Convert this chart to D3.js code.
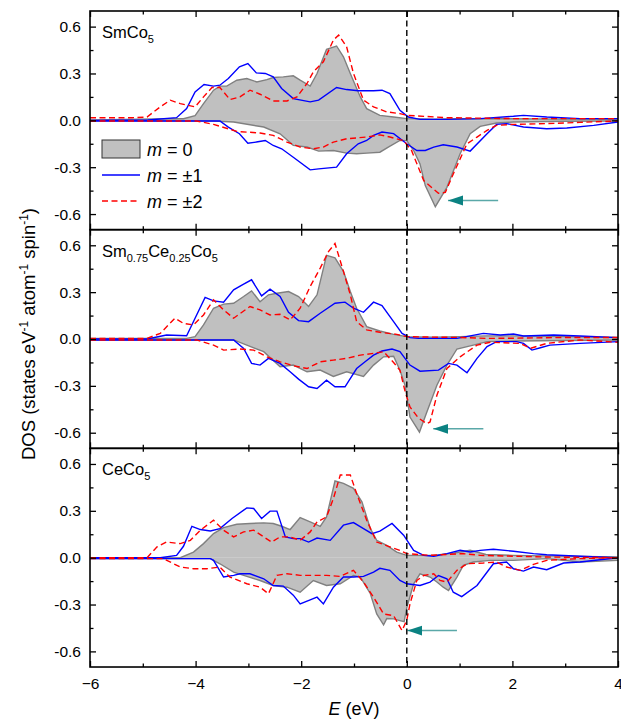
<!DOCTYPE html>
<html>
<head>
<meta charset="utf-8">
<script src="https://d3js.org/d3.v7.min.js"></script>
<style>
  body { margin: 0; background: #fff; }
  text { font-family: "Liberation Sans", Arial, sans-serif; }
</style>
</head>
<body>
<svg id="chart" width="621" height="720"></svg>
<script>
// ---- data (E in eV, DOS in states/eV/atom/spin) ----
const energyTicks = [-6, -4, -2, 0, 2, 4];
const energyMinor = [-5, -3, -1, 1, 3];
const dosTicks = [-0.6, -0.3, 0, 0.3, 0.6];
const dosMinor = [-0.45, -0.15, 0.15, 0.45];

// SmCo5
const smco5_m0_up = [[-6,0.003],[-4.5,0.01],[-4.23,0.01],[-4.01,0.03],[-3.85,0.107],[-3.66,0.193],[-3.54,0.219],[-3.41,0.219],[-3.22,0.257],[-3.03,0.268],[-2.84,0.246],[-2.65,0.261],[-2.53,0.274],[-2.34,0.278],[-2.15,0.285],[-2.02,0.257],[-1.83,0.219],[-1.70,0.30],[-1.52,0.454],[-1.33,0.476],[-1.20,0.407],[-1.07,0.30],[-0.88,0.15],[-0.76,0.075],[-0.51,0.032],[-0.25,0.021],[0,0.011],[0.5,0.008],[1,0.01],[2,0.01],[3,0.008],[4,0.006]];
const smco5_m0_dn = [[-6,-0.003],[-3.66,-0.004],[-3.28,-0.011],[-2.71,-0.043],[-2.40,-0.086],[-2.15,-0.16],[-1.89,-0.171],[-1.67,-0.197],[-1.39,-0.193],[-1.14,-0.21],[-0.95,-0.214],[-0.76,-0.21],[-0.51,-0.204],[-0.35,-0.171],[-0.13,-0.129],[0,-0.13],[0.13,-0.193],[0.25,-0.279],[0.35,-0.418],[0.54,-0.553],[0.76,-0.429],[1.01,-0.214],[1.20,-0.086],[1.39,-0.039],[1.70,-0.017],[2.02,-0.011],[3,-0.006],[4,-0.004]];
const smco5_m1_up = [[-6,0],[-4.9,0.002],[-4.36,0.017],[-4.17,0.075],[-4.01,0.182],[-3.84,0.229],[-3.66,0.219],[-3.54,0.225],[-3.38,0.268],[-3.17,0.343],[-3.01,0.364],[-2.85,0.304],[-2.68,0.30],[-2.53,0.279],[-2.37,0.204],[-2.15,0.139],[-1.83,0.118],[-1.67,0.129],[-1.33,0.21],[-1.14,0.197],[-0.92,0.189],[-0.63,0.189],[-0.47,0.193],[-0.32,0.171],[-0.13,0.064],[0.03,0.021],[0.25,0.006],[0.76,0.006],[1.39,0.011],[2.02,0.026],[2.21,0.032],[2.65,0.021],[3.28,0.011],[4,0.011]];
const smco5_m1_dn = [[-6,-0.004],[-3.54,-0.004],[-3.38,-0.043],[-3.17,-0.086],[-3.01,-0.146],[-2.85,-0.139],[-2.68,-0.129],[-2.53,-0.161],[-2.37,-0.182],[-2.15,-0.236],[-1.83,-0.317],[-1.67,-0.311],[-1.33,-0.30],[-1.14,-0.214],[-0.92,-0.15],[-0.76,-0.129],[-0.63,-0.096],[-0.47,-0.075],[-0.25,-0.085],[0,-0.15],[0.19,-0.193],[0.35,-0.193],[0.51,-0.171],[0.69,-0.156],[0.95,-0.171],[1.20,-0.197],[1.52,-0.086],[1.70,-0.026],[1.89,-0.021],[2.21,-0.043],[2.65,-0.054],[3.03,-0.049],[3.54,-0.032],[4,-0.011]];
const smco5_m2_up = [[-6,0.017],[-5.2,0.017],[-4.92,0.021],[-4.67,0.086],[-4.48,0.129],[-4.29,0.107],[-4.01,0.086],[-3.85,0.15],[-3.69,0.21],[-3.54,0.21],[-3.35,0.133],[-3.16,0.15],[-2.97,0.193],[-2.78,0.167],[-2.53,0.124],[-2.27,0.124],[-2.08,0.15],[-1.89,0.236],[-1.77,0.31],[-1.58,0.375],[-1.39,0.514],[-1.29,0.546],[-1.14,0.471],[-1.01,0.30],[-0.82,0.129],[-0.63,0.086],[-0.38,0.054],[-0.13,0.043],[0,0.032],[0.76,0.017],[2.02,0.011],[4,0.011]];
const smco5_m2_dn = [[-6,-0.004],[-3.98,-0.004],[-3.66,-0.026],[-3.22,-0.071],[-2.78,-0.081],[-2.53,-0.096],[-2.27,-0.139],[-2.02,-0.171],[-1.77,-0.182],[-1.58,-0.171],[-1.39,-0.139],[-1.14,-0.118],[-0.76,-0.107],[-0.51,-0.093],[-0.32,-0.107],[-0.06,-0.13],[0.09,-0.193],[0.32,-0.386],[0.60,-0.467],[0.73,-0.461],[0.88,-0.343],[1.14,-0.15],[1.33,-0.107],[1.52,-0.064],[1.70,-0.032],[2.02,-0.026],[2.65,-0.021],[3.28,-0.013],[4,-0.004]];

// Sm0.75Ce0.25Co5
const smce_m0_up = [[-6,0.004],[-4.17,0.004],[-4.01,0.015],[-3.85,0.09],[-3.66,0.197],[-3.47,0.223],[-3.28,0.229],[-3.09,0.272],[-2.94,0.308],[-2.78,0.239],[-2.62,0.283],[-2.46,0.293],[-2.24,0.304],[-2.05,0.272],[-1.86,0.208],[-1.70,0.283],[-1.52,0.536],[-1.36,0.519],[-1.20,0.433],[-1.07,0.304],[-0.95,0.197],[-0.76,0.079],[-0.51,0.051],[-0.25,0.03],[0,0.015],[0.5,0.012],[1,0.015],[1.5,0.02],[2,0.02],[3,0.015],[4,0.01]];
const smce_m0_dn = [[-6,-0.006],[-3.28,-0.006],[-3.03,-0.039],[-2.71,-0.081],[-2.40,-0.178],[-2.15,-0.167],[-1.89,-0.21],[-1.64,-0.199],[-1.39,-0.24],[-1.14,-0.21],[-0.82,-0.24],[-0.63,-0.167],[-0.44,-0.114],[-0.25,-0.11],[-0.13,-0.2],[-0.03,-0.3],[0.06,-0.5],[0.24,-0.596],[0.38,-0.467],[0.57,-0.296],[0.76,-0.167],[0.95,-0.064],[1.26,-0.039],[1.52,-0.017],[2.02,-0.013],[4,-0.006]];
const smce_m1_up = [[-6,0],[-4.92,0],[-4.55,0.026],[-4.17,0.021],[-4.01,0.133],[-3.82,0.266],[-3.66,0.244],[-3.47,0.236],[-3.28,0.315],[-3.09,0.351],[-2.94,0.379],[-2.75,0.276],[-2.59,0.319],[-2.40,0.272],[-2.24,0.171],[-2.05,0.118],[-1.86,0.111],[-1.64,0.165],[-1.36,0.229],[-1.17,0.236],[-1.01,0.197],[-0.82,0.171],[-0.63,0.236],[-0.47,0.214],[-0.25,0.111],[-0.09,0.036],[0.06,0.009],[0.22,0.004],[0.95,0.004],[1.45,0.036],[1.77,0.026],[2.02,0.032],[2.21,0.019],[2.78,0.026],[3.28,0.019],[4,0.009]];
const smce_m1_dn = [[-6,-0.006],[-3.28,-0.006],[-3.09,-0.06],[-2.94,-0.156],[-2.78,-0.167],[-2.62,-0.124],[-2.40,-0.156],[-2.21,-0.21],[-2.05,-0.257],[-1.86,-0.306],[-1.70,-0.317],[-1.52,-0.264],[-1.36,-0.306],[-1.17,-0.306],[-0.95,-0.189],[-0.79,-0.146],[-0.63,-0.103],[-0.47,-0.077],[-0.28,-0.064],[-0.13,-0.081],[0.06,-0.167],[0.25,-0.206],[0.60,-0.199],[0.79,-0.156],[0.95,-0.167],[1.14,-0.216],[1.33,-0.124],[1.52,-0.049],[1.70,-0.017],[2.08,-0.017],[2.21,-0.028],[2.37,-0.071],[2.53,-0.056],[2.71,-0.039],[3.28,-0.028],[4,-0.017]];
const smce_m2_up = [[-6,0.004],[-4.92,0.004],[-4.67,0.036],[-4.39,0.133],[-4.23,0.1],[-4.04,0.09],[-3.85,0.154],[-3.66,0.251],[-3.47,0.186],[-3.28,0.133],[-2.97,0.208],[-2.78,0.186],[-2.59,0.154],[-2.40,0.158],[-2.21,0.122],[-2.02,0.197],[-1.83,0.336],[-1.64,0.454],[-1.48,0.561],[-1.36,0.611],[-1.20,0.433],[-1.07,0.283],[-0.95,0.111],[-0.76,0.058],[-0.51,0.043],[-0.19,0.03],[0,0.015],[0.5,0.012],[1,0.01],[1.5,0.004],[2,0.005],[3,0.01],[4,0.01]];
const smce_m2_dn = [[-6,-0.006],[-3.98,-0.006],[-3.66,-0.039],[-3.47,-0.071],[-3.16,-0.064],[-2.90,-0.071],[-2.65,-0.114],[-2.40,-0.146],[-2.15,-0.171],[-1.89,-0.189],[-1.64,-0.146],[-1.39,-0.135],[-1.14,-0.124],[-0.88,-0.103],[-0.63,-0.092],[-0.44,-0.081],[-0.25,-0.15],[-0.13,-0.2],[-0.03,-0.339],[0.06,-0.435],[0.22,-0.506],[0.38,-0.542],[0.44,-0.531],[0.57,-0.36],[0.76,-0.189],[1.01,-0.114],[1.33,-0.039],[1.58,-0.021],[2.15,-0.028],[2.34,-0.06],[2.65,-0.028],[3.28,-0.006],[4,-0.021]];

// CeCo5
const ceco5_m0_up = [[-6,0],[-4.29,0],[-4.04,0.036],[-3.85,0.09],[-3.66,0.154],[-3.47,0.193],[-3.22,0.214],[-2.97,0.219],[-2.71,0.223],[-2.53,0.219],[-2.37,0.201],[-2.21,0.18],[-2.02,0.257],[-1.83,0.229],[-1.64,0.201],[-1.52,0.261],[-1.36,0.491],[-1.20,0.476],[-1.01,0.444],[-0.85,0.358],[-0.69,0.186],[-0.57,0.111],[-0.38,0.079],[-0.19,0.036],[0,0.015],[0.5,0.015],[0.9,0.03],[1.2,0.047],[1.5,0.02],[2,0.015],[3,0.01],[4,0.005]];
const ceco5_m0_dn = [[-6,-0.006],[-3.72,-0.006],[-3.54,-0.039],[-3.28,-0.092],[-3.03,-0.12],[-2.78,-0.146],[-2.53,-0.178],[-2.27,-0.189],[-2.02,-0.221],[-1.77,-0.146],[-1.52,-0.178],[-1.26,-0.167],[-1.01,-0.114],[-0.88,-0.124],[-0.69,-0.231],[-0.57,-0.36],[-0.44,-0.43],[-0.38,-0.39],[-0.25,-0.392],[-0.13,-0.403],[-0.05,-0.41],[0,-0.32],[0.13,-0.167],[0.25,-0.103],[0.44,-0.124],[0.57,-0.156],[0.69,-0.189],[0.79,-0.21],[0.95,-0.124],[1.07,-0.049],[1.26,-0.028],[1.58,-0.017],[2.02,-0.017],[2.65,-0.006],[3.28,-0.028],[4,-0.017]];
const ceco5_m1_up = [[-6,0],[-4.67,0],[-4.36,0.015],[-4.23,0.073],[-4.07,0.201],[-3.91,0.18],[-3.72,0.171],[-3.54,0.186],[-3.31,0.251],[-3.03,0.319],[-2.90,0.315],[-2.75,0.251],[-2.59,0.298],[-2.46,0.298],[-2.30,0.133],[-2.15,0.122],[-2.02,0.122],[-1.86,0.1],[-1.70,0.126],[-1.45,0.111],[-1.20,0.208],[-1.01,0.225],[-0.82,0.186],[-0.66,0.154],[-0.51,0.17],[-0.28,0.219],[-0.06,0.144],[0.13,0.047],[0.32,0.015],[0.51,0.009],[0.76,0.026],[1.01,0.047],[1.20,0.036],[1.39,0.047],[1.64,0.054],[2.02,0.041],[2.40,0.026],[2.65,0.019],[3.28,0.009],[4,0]];
const ceco5_m1_dn = [[-6,-0.006],[-3.72,-0.006],[-3.66,-0.017],[-3.47,-0.124],[-3.28,-0.113],[-3.16,-0.103],[-2.97,-0.103],[-2.71,-0.135],[-2.53,-0.178],[-2.34,-0.182],[-2.15,-0.24],[-2.02,-0.296],[-1.83,-0.27],[-1.70,-0.253],[-1.58,-0.296],[-1.39,-0.189],[-1.20,-0.124],[-1.01,-0.124],[-0.82,-0.12],[-0.63,-0.092],[-0.51,-0.068],[-0.32,-0.081],[-0.13,-0.146],[0,-0.167],[0.25,-0.178],[0.44,-0.156],[0.60,-0.114],[0.76,-0.135],[0.88,-0.221],[1.04,-0.249],[1.33,-0.178],[1.64,-0.039],[1.89,-0.028],[2.02,-0.071],[2.21,-0.086],[2.40,-0.06],[2.65,-0.077],[2.97,-0.034],[3.28,-0.028],[4,0]];
const ceco5_m2_up = [[-6,0],[-4.92,0],[-4.73,0.069],[-4.55,0.1],[-4.29,0.09],[-4.10,0.111],[-3.91,0.176],[-3.66,0.24],[-3.47,0.176],[-3.28,0.133],[-3.09,0.165],[-2.90,0.176],[-2.71,0.133],[-2.56,0.1],[-2.40,0.133],[-2.21,0.133],[-2.02,0.111],[-1.83,0.165],[-1.70,0.229],[-1.52,0.261],[-1.39,0.379],[-1.26,0.529],[-1.07,0.529],[-0.95,0.411],[-0.76,0.24],[-0.57,0.1],[-0.32,0.069],[-0.13,0.047],[0,0.026],[0.44,0.015],[1.07,0.026],[1.39,0.015],[2.65,0.004],[4,0]];
const ceco5_m2_dn = [[-6,-0.006],[-4.61,-0.006],[-4.29,-0.06],[-4.04,-0.071],[-3.79,-0.071],[-3.54,-0.06],[-3.35,-0.124],[-3.03,-0.167],[-2.78,-0.189],[-2.62,-0.231],[-2.46,-0.113],[-2.27,-0.103],[-2.02,-0.113],[-1.77,-0.113],[-1.52,-0.113],[-1.26,-0.12],[-1.01,-0.081],[-0.82,-0.156],[-0.63,-0.253],[-0.44,-0.36],[-0.25,-0.371],[-0.09,-0.467],[0,-0.40],[0.06,-0.296],[0.19,-0.146],[0.32,-0.114],[0.51,-0.103],[0.63,-0.146],[0.76,-0.156],[0.95,-0.081],[1.14,-0.039],[1.45,-0.034],[1.70,-0.028],[1.89,-0.06],[2.15,-0.081],[2.40,-0.043],[2.65,-0.017],[3.28,-0.006],[4,0]];

// arrows marking the minority-spin peak: [tail E, tip E, DOS]
const arrowSmCo5 = [1.73, 0.78, -0.514];
const arrowSmCe = [1.45, 0.50, -0.575];
const arrowCeCo5 = [0.95, 0.01, -0.467];

const panels = [
  {name: [["Sm",""],["Co","5"]], m0: [smco5_m0_up, smco5_m0_dn], m1: [smco5_m1_up, smco5_m1_dn], m2: [smco5_m2_up, smco5_m2_dn], arrow: arrowSmCo5},
  {name: [["Sm","0.75"],["Ce","0.25"],["Co","5"]], m0: [smce_m0_up, smce_m0_dn], m1: [smce_m1_up, smce_m1_dn], m2: [smce_m2_up, smce_m2_dn], arrow: arrowSmCe},
  {name: [["Ce",""],["Co","5"]], m0: [ceco5_m0_up, ceco5_m0_dn], m1: [ceco5_m1_up, ceco5_m1_dn], m2: [ceco5_m2_up, ceco5_m2_dn], arrow: arrowCeCo5}
];

// ---- layout ----
const svg = d3.select("#chart");
const left = 90, right = 618, top0 = 11, panelH = 218.67;
const x = d3.scaleLinear().domain([-6, 4]).range([left, right]);
const FONT = "'Liberation Sans', Arial, sans-serif";
const SERIF = "'Liberation Serif', 'Times New Roman', serif";

// arrow head: tip at marker x = 15, pointing along the line direction
svg.append("defs").append("marker")
  .attr("id", "arrowhead")
  .attr("markerUnits", "userSpaceOnUse")
  .attr("markerWidth", 16).attr("markerHeight", 12)
  .attr("refX", 15).attr("refY", 5)
  .attr("orient", "auto")
  .append("path")
  .attr("d", "M15,5 L0,0 L0,10 Z")
  .attr("fill", "#0b8282");

function styleAxis(g, labels) {
  g.select(".domain").remove();
  g.selectAll(".tick line").attr("stroke", "#000").attr("stroke-width", 1.3);
  g.selectAll(".tick text")
    .attr("font-family", FONT).attr("font-size", 15.5).attr("fill", "#000");
  if (!labels) g.selectAll(".tick text").remove();
}

panels.forEach(function(p, i) {
  const top = top0 + i * panelH, bottom = top + panelH;
  const y = d3.scaleLinear().domain([-0.7, 0.7]).range([bottom, top]);
  const g = svg.append("g");

  const clipId = "clip" + i;
  svg.select("defs").append("clipPath").attr("id", clipId)
    .append("rect").attr("x", left).attr("y", top).attr("width", right - left).attr("height", panelH);
  const plot = g.append("g").attr("clip-path", "url(#" + clipId + ")");

  const area = d3.area().x(d => x(d[0])).y0(y(0)).y1(d => y(d[1]));
  const line = d3.line().x(d => x(d[0])).y(d => y(d[1]));

  p.m0.forEach(function(s) {
    plot.append("path").attr("d", area(s)).attr("fill", "#c0c0c0");
    plot.append("path").attr("d", line(s)).attr("fill", "none")
      .attr("stroke", "#808080").attr("stroke-width", 1.4);
  });
  p.m1.forEach(function(s) {
    plot.append("path").attr("d", line(s)).attr("fill", "none")
      .attr("stroke", "#0000ff").attr("stroke-width", 1.4);
  });
  p.m2.forEach(function(s) {
    plot.append("path").attr("d", line(s)).attr("fill", "none")
      .attr("stroke", "#ff0000").attr("stroke-width", 1.4)
      .attr("stroke-dasharray", "6,3.5");
  });

  // axes, ticks pointing inward on all four sides
  const fmt = d => d.toFixed(1);
  g.append("g").attr("transform", "translate(" + left + ",0)")
    .call(d3.axisLeft(y).tickValues(dosTicks).tickSize(-6).tickPadding(9).tickFormat(fmt))
    .call(s => styleAxis(s, true));
  g.append("g").attr("transform", "translate(" + left + ",0)")
    .call(d3.axisLeft(y).tickValues(dosMinor).tickSize(-3.5).tickFormat(""))
    .call(s => styleAxis(s, false));
  g.append("g").attr("transform", "translate(" + right + ",0)")
    .call(d3.axisRight(y).tickValues(dosTicks).tickSize(-6).tickFormat(""))
    .call(s => styleAxis(s, false));
  g.append("g").attr("transform", "translate(" + right + ",0)")
    .call(d3.axisRight(y).tickValues(dosMinor).tickSize(-3.5).tickFormat(""))
    .call(s => styleAxis(s, false));
  g.append("g").attr("transform", "translate(0," + top + ")")
    .call(d3.axisTop(x).tickValues(energyTicks).tickSize(-6).tickFormat(""))
    .call(s => styleAxis(s, false));
  g.append("g").attr("transform", "translate(0," + top + ")")
    .call(d3.axisTop(x).tickValues(energyMinor).tickSize(-3.5).tickFormat(""))
    .call(s => styleAxis(s, false));
  const isLast = i === panels.length - 1;
  g.append("g").attr("transform", "translate(0," + bottom + ")")
    .call(d3.axisBottom(x).tickValues(energyTicks).tickSize(-6).tickPadding(11).tickFormat(d3.format("d")))
    .call(s => styleAxis(s, isLast));
  g.append("g").attr("transform", "translate(0," + bottom + ")")
    .call(d3.axisBottom(x).tickValues(energyMinor).tickSize(-3.5).tickFormat(""))
    .call(s => styleAxis(s, false));

  g.append("rect").attr("x", left).attr("y", top).attr("width", right - left).attr("height", panelH)
    .attr("fill", "none").attr("stroke", "#000").attr("stroke-width", 1.6);

  // compound label with subscripts
  const lbl = g.append("text").attr("x", 102).attr("y", top + 27)
    .attr("font-family", FONT).attr("font-size", 16.5).attr("fill", "#000");
  let shifted = false;
  p.name.forEach(function(part) {
    lbl.append("tspan").attr("dy", shifted ? -5 : 0).text(part[0]);
    shifted = false;
    if (part[1]) {
      lbl.append("tspan").attr("font-size", 11).attr("dy", 5).text(part[1]);
      shifted = true;
    }
  });

  // arrow
  const a = p.arrow;
  g.append("line")
    .attr("x1", x(a[0])).attr("y1", y(a[2]))
    .attr("x2", x(a[1])).attr("y2", y(a[2]))
    .attr("stroke", "#5aa8a8").attr("stroke-width", 1.5)
    .attr("marker-end", "url(#arrowhead)");
});

// Fermi level
svg.append("line")
  .attr("x1", x(0)).attr("x2", x(0))
  .attr("y1", top0).attr("y2", top0 + 3 * panelH)
  .attr("stroke", "#000").attr("stroke-width", 1.4)
  .attr("stroke-dasharray", "6,3.5");

// legend in the first panel
const legendItems = [
  {label: " = 0", type: "area"},
  {label: " = \u00b11", type: "m1"},
  {label: " = \u00b12", type: "m2"}
];
const lg = svg.append("g");
legendItems.forEach(function(it, k) {
  const cy = 149 + k * 26;
  if (it.type === "area") {
    lg.append("rect").attr("x", 102).attr("y", cy - 9).attr("width", 38).attr("height", 18)
      .attr("fill", "#c0c0c0").attr("stroke", "#333").attr("stroke-width", 1);
  } else {
    lg.append("line").attr("x1", 102).attr("x2", 140).attr("y1", cy).attr("y2", cy)
      .attr("stroke", it.type === "m1" ? "#0000ff" : "#ff0000").attr("stroke-width", 1.4)
      .attr("stroke-dasharray", it.type === "m2" ? "6,3.5" : null);
  }
  const t = lg.append("text").attr("x", 147).attr("y", cy + 7)
    .attr("font-family", SERIF).attr("font-size", 18).attr("fill", "#000");
  t.append("tspan").attr("font-style", "italic").text("m");
  t.append("tspan").text(it.label);
});

// axis titles
const xt = svg.append("text").attr("x", (left + right) / 2).attr("y", 715)
  .attr("text-anchor", "middle").attr("font-family", FONT).attr("font-size", 18);
xt.append("tspan").attr("font-style", "italic").text("E");
xt.append("tspan").text(" (eV)");

const yt = svg.append("text")
  .attr("transform", "translate(35," + (top0 + 1.5 * panelH - 5) + ") rotate(-90)")
  .attr("text-anchor", "middle").attr("font-family", FONT).attr("font-size", 18.5);
yt.append("tspan").text("DOS (states eV");
yt.append("tspan").attr("font-size", 12).attr("dy", -7).text("-1");
yt.append("tspan").attr("dy", 7).text(" atom");
yt.append("tspan").attr("font-size", 12).attr("dy", -7).text("-1");
yt.append("tspan").attr("dy", 7).text(" spin");
yt.append("tspan").attr("font-size", 12).attr("dy", -7).text("-1");
yt.append("tspan").attr("dy", 7).text(")");
</script>
</body>
</html>
